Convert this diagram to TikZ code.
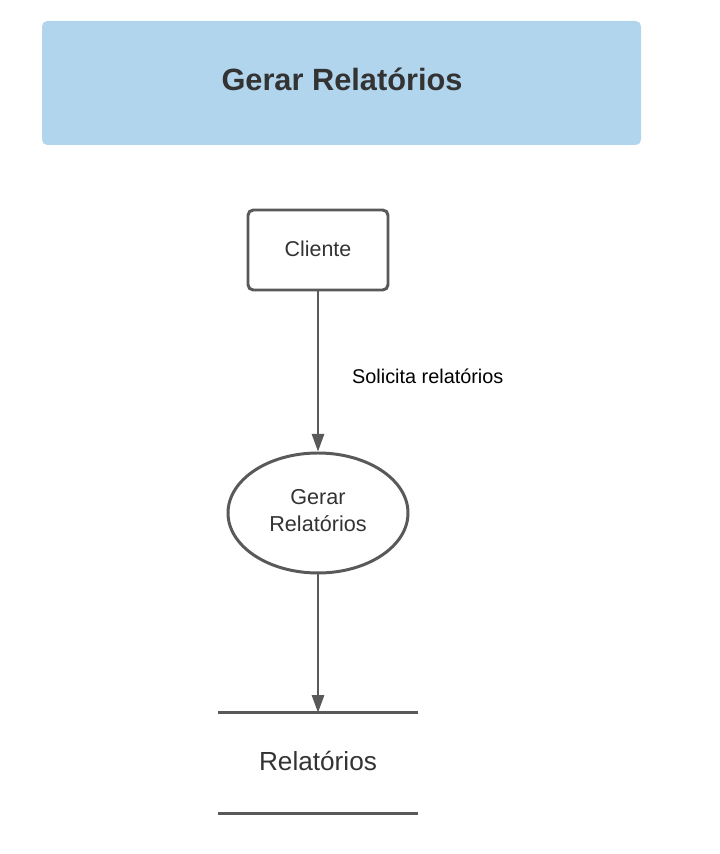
\documentclass[tikz,border=0pt]{standalone}
\usepackage{fontspec}
\setmainfont{Liberation Sans}
\usetikzlibrary{shapes.geometric,arrows.meta}
\definecolor{titleblue}{HTML}{B2D5EE}
\definecolor{linegray}{HTML}{595959}
\definecolor{textgray}{HTML}{333333}

\begin{document}
\begin{tikzpicture}
\useasboundingbox (0,0) rectangle (14.4,17.08);
%\draw[step=1cm,gray,very thin] (0,0) grid (14,17); %background grid
\tikzset{
  fluxo/.style={linegray,line width=1.1pt,-{Triangle[length=10pt,width=7pt]}},
  entidade/.style={draw=linegray,line width=1.7pt,rounded corners=3pt,minimum width=2.8cm,minimum height=1.6cm,text=textgray,font=\fontsize{12.2}{14}\selectfont},
  processo/.style={ellipse,draw=linegray,line width=1.7pt,minimum width=3.6cm,minimum height=2.4cm,text=textgray,align=center,font=\fontsize{12.3}{15.3}\selectfont},
}
\node[fill=titleblue,rounded corners=3pt,minimum width=11.98cm,minimum height=2.48cm] (titulo) at (6.83,15.42) {};
\node[text=textgray,font=\fontsize{17.5}{20}\selectfont\bfseries] at (6.84,15.5) {Gerar Relatórios};
\node[entidade] (cliente) at (6.36,12.08) {\raisebox{1.5pt}{Cliente}};
\node[processo] (gerar) at (6.36,6.82) {};
\node[text=textgray,align=center,font=\fontsize{12.3}{15.3}\selectfont] at (6.36,6.86) {Gerar\\Relatórios};
\node[minimum width=3.98cm,minimum height=2cm,text=textgray,font=\fontsize{14.9}{17}\selectfont] (rel) at (6.36,1.82) {\raisebox{2pt}{Relatórios}};
\draw[linegray,line width=1.7pt] (rel.north west) -- (rel.north east);
\draw[linegray,line width=1.7pt] (rel.south west) -- (rel.south east);
\draw[fluxo] (cliente) -- (gerar);
\draw[fluxo] (gerar) -- (rel.north);
\node[anchor=west,font=\fontsize{11.3}{13}\selectfont] (solicita) at (6.92,9.56) {Solicita relatórios};
\end{tikzpicture}
\end{document}
